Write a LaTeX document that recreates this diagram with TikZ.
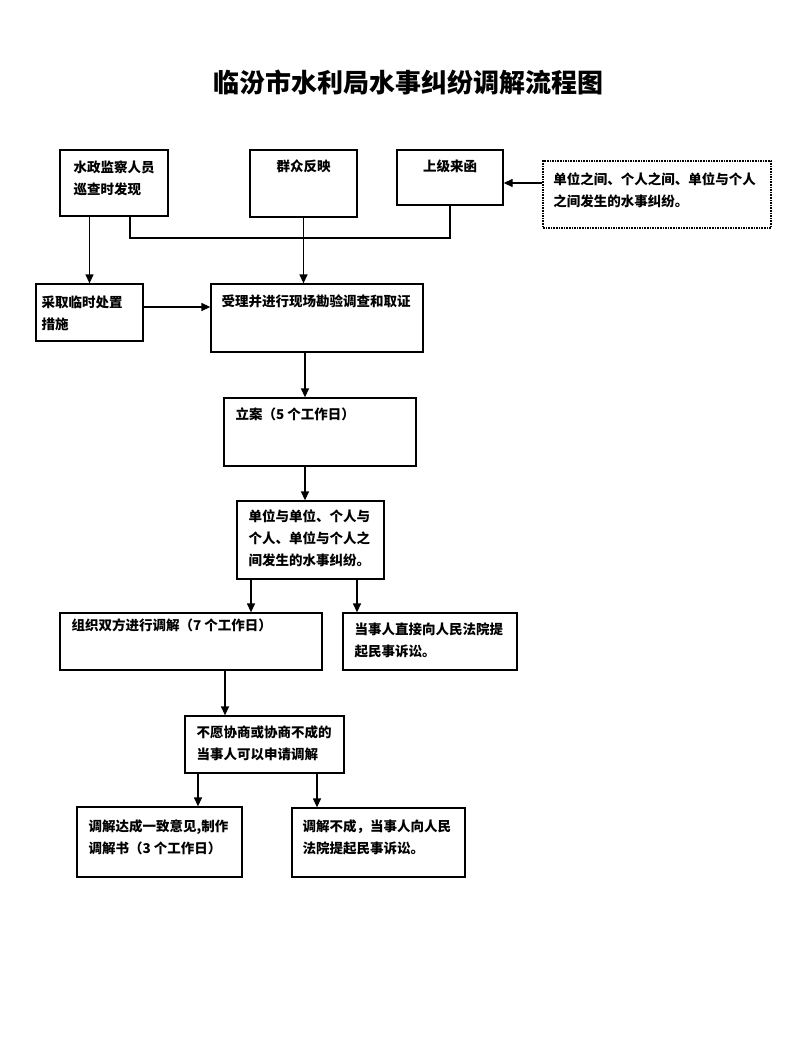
\documentclass[tikz,border=0pt]{standalone}
\usepackage{fontspec}
\setmainfont{Noto Sans CJK SC}
\usetikzlibrary{arrows.meta}
\tikzset{
  box/.style={draw, line width=1.3pt, inner sep=0pt},
  srcbox/.style={draw, densely dotted, line width=1.6pt, inner sep=0pt},
  txt/.style={anchor=north west, inner sep=0pt, align=left, font=\bfseries\fontsize{13.5}{22}\selectfont},
  arr/.style={line width=1.3pt, -{Triangle[length=9pt,width=8pt]}}
}
\begin{document}
\begin{tikzpicture}[x=1pt,y=-1pt]
		\useasboundingbox (0,0) rectangle (800,1063);
		\node[font=\bfseries\fontsize{26}{30}\selectfont] (title) at (408,83) {临汾市水利局水事纠纷调解流程图};
		% sources
		\node[box, minimum width=108pt, minimum height=66pt] (b1) at (114,183) {};
		\node[box, minimum width=107pt, minimum height=67pt] (b2) at (303.5,183.5) {};
		\node[box, minimum width=106pt, minimum height=55pt] (b3) at (450,177.5) {};
		\node[srcbox, minimum width=228pt, minimum height=67pt] (src) at (657,194.5) {};
		\node[txt] (b1t) at ([shift={(14pt,-11pt)}]b1.north west) {水政监察人员\\巡查时发现};
		\node[txt, anchor=north] (b2t) at ([yshift=-10pt]b2.north) {群众反映};
		\node[txt, anchor=north] (b3t) at ([yshift=-10pt]b3.north) {上级来函};
		\node[txt] (srct) at ([shift={(11pt,-12pt)}]src.north west) {单位之间、个人之间、单位与个人\\之间发生的水事纠纷。};
		% acceptance
		\node[box, minimum width=107pt, minimum height=57pt] (tmp) at (89.5,312.5) {};
		\node[box, minimum width=212pt, minimum height=68pt] (acc) at (317,318) {};
		\node[txt] (tmpt) at ([shift={(6pt,-12pt)}]tmp.north west) {采取临时处置\\措施};
		\node[txt] (acct) at ([shift={(11pt,-11pt)}]acc.north west) {受理并进行现场勘验调查和取证};
		\node[box, minimum width=192pt, minimum height=68pt] (case) at (320,432) {};
		\node[txt] (caset) at ([shift={(12pt,-10pt)}]case.north west) {立案（5 个工作日）};
		\node[box, minimum width=147pt, minimum height=78pt] (kind) at (310.5,540) {};
		\node[txt] (kindt) at ([shift={(12pt,-9pt)}]kind.north west) {单位与单位、个人与\\个人、单位与个人之\\间发生的水事纠纷。};
		% mediation
		\node[box, minimum width=262pt, minimum height=57pt] (med) at (191,641.5) {};
		\node[box, minimum width=174pt, minimum height=57pt] (sue) at (430,641.5) {};
		\node[txt] (medt) at ([shift={(12pt,-6pt)}]med.north west) {组织双方进行调解（7 个工作日）};
		\node[txt] (suet) at ([shift={(12pt,-10pt)}]sue.north west) {当事人直接向人民法院提\\起民事诉讼。};
		\node[box, minimum width=159pt, minimum height=57pt] (apply) at (264.5,744.5) {};
		\node[txt] (applyt) at ([shift={(12pt,-10pt)}]apply.north west) {不愿协商或协商不成的\\当事人可以申请调解};
		\node[box, minimum width=165pt, minimum height=70pt] (ok) at (159.5,842) {};
		\node[box, minimum width=173pt, minimum height=69pt] (fail) at (378.5,842.5) {};
		\node[txt] (okt) at ([shift={(12pt,-13pt)}]ok.north west) {调解达成一致意见,制作\\调解书（3 个工作日）};
		\node[txt] (failt) at ([shift={(11pt,-12pt)}]fail.north west) {调解不成，当事人向人民\\法院提起民事诉讼。};
		% connectors
		\coordinate (join) at (304,238);
		\draw[arr] (b1.south -| tmp.north) -- (tmp.north);
		\draw[line width=1.3pt] (b1.south -| 130,0) |- (join) -| (b3.south);
		\draw[arr] (b2.south) -- (b2.south |- acc.north);
		\draw[arr] (src.west |- 0,183) -- (b3.east |- 0,183);
		\draw[arr] (tmp.east |- 0,307) -- (acc.west |- 0,307);
		\draw[arr] (acc.south -| 305,0) -- (case.north -| 305,0);
		\draw[arr] (case.south -| 305,0) -- (kind.north -| 305,0);
		\draw[arr] (kind.south -| 251,0) -- (med.north -| 251,0);
		\draw[arr] (kind.south -| 357,0) -- (sue.north -| 357,0);
		\draw[arr] (med.south -| 225,0) -- (apply.north -| 225,0);
		\draw[arr] (apply.south -| 198,0) -- (ok.north -| 198,0);
		\draw[arr] (apply.south -| 317,0) -- (fail.north -| 317,0);
		\end{tikzpicture}
\end{document}
